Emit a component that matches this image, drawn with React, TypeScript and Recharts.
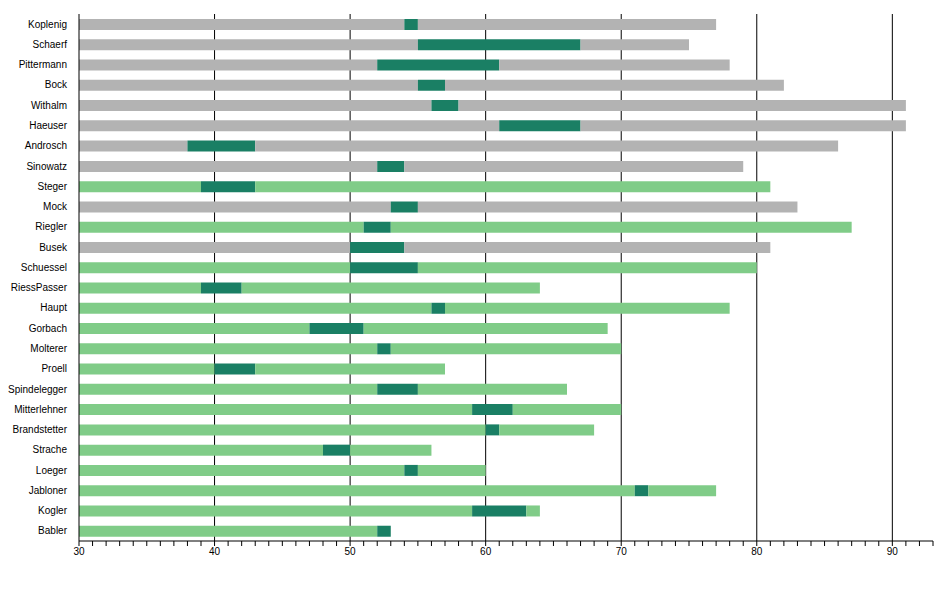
import React from "react";
import { BarChart, Bar, XAxis, YAxis, CartesianGrid, Cell } from "recharts";

const names = ["Koplenig","Schaerf","Pittermann","Bock","Withalm","Haeuser","Androsch","Sinowatz","Steger","Mock","Riegler","Busek","Schuessel","RiessPasser","Haupt","Gorbach","Molterer","Proell","Spindelegger","Mitterlehner","Brandstetter","Strache","Loeger","Jabloner","Kogler","Babler"];
const startAge = [54,55,52,55,56,61,38,52,39,53,51,50,50,39,56,47,52,40,52,59,60,48,54,71,59,52];
const endAge = [55,67,61,57,58,67,43,54,43,55,53,54,55,42,57,51,53,43,55,62,61,50,55,72,63,53];
const totalAge = [77,75,78,82,91,91,86,79,81,83,87,81,80,64,78,69,70,57,66,70,68,56,60,77,64,53];
const isGreen = [0,0,0,0,0,0,0,0,1,0,1,0,1,1,1,1,1,1,1,1,1,1,1,1,1,1];
const gridLines = [40,50,60,70,80,90];
const ticks = Array.from({ length: 64 }, (_, i) => 30 + i);

const data = names.map((n, i) => ({
  name: n,
  a: startAge[i],
  b: endAge[i] - startAge[i],
  c: totalAge[i] - endAge[i],
  green: isGreen[i],
}));

const GREY = "#b3b3b3";
const LIGHT = "#80cc88";
const DARK = "#1a7f64";

export default function App() {
  return (
    <BarChart width={935} height={580} data={data} layout="vertical"
      margin={{ top: 6, right: 10, bottom: 17, left: 0 }} barCategoryGap={5}
      style={{ fontFamily: "Liberation Sans, Arial, sans-serif" }}>
      <CartesianGrid horizontal={false} verticalValues={gridLines} stroke="#000" strokeOpacity={1} />
      <XAxis type="number" domain={[30, 93]} allowDataOverflow ticks={ticks} interval={0}
        tickFormatter={(v) => (v % 10 === 0 ? String(v) : "")}
        tick={{ fill: "#000", fontSize: 10 }} stroke="#000" tickSize={5} height={30} />
      <YAxis type="category" dataKey="name" width={71} interval={0}
        tick={{ fill: "#000", fontSize: 10 }} stroke="#000" tickLine={false} tickMargin={6} />
      <Bar dataKey="a" stackId="s" isAnimationActive={false} barSize={11}>
        {data.map((d, i) => <Cell key={i} fill={d.green ? LIGHT : GREY} />)}
      </Bar>
      <Bar dataKey="b" stackId="s" fill={DARK} isAnimationActive={false} barSize={11} />
      <Bar dataKey="c" stackId="s" isAnimationActive={false} barSize={11}>
        {data.map((d, i) => <Cell key={i} fill={d.green ? LIGHT : GREY} />)}
      </Bar>
    </BarChart>
  );
}
